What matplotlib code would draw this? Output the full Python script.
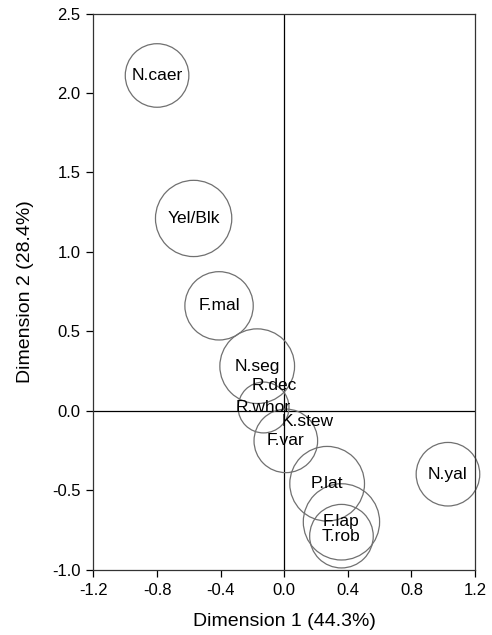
"""
plot.py
Ordenación en dos dimensiones con círculos por especie.
Genera out.png
"""

import matplotlib
matplotlib.use("Agg")
import matplotlib.pyplot as plt
import matplotlib.patches as mpatches

plt.rcParams["font.family"] = ["Liberation Sans", "DejaVu Sans"]

# ── Datos ─────────────────────────────────────────────────────────────────────
especies = ["N.caer", "Yel/Blk", "F.mal", "N.seg", "R.dec", "R.whor",
            "K.stew", "F.var", "P.lat", "F.lap", "T.rob", "N.yal"]
dim1     = [-0.80, -0.57, -0.41, -0.17, -0.06, -0.13,
            0.15, 0.01, 0.27, 0.36, 0.36, 1.03]
dim2     = [2.11, 1.21, 0.66, 0.28, 0.16, 0.02,
            -0.07, -0.19, -0.46, -0.70, -0.79, -0.40]
radios   = [0.20, 0.24, 0.215, 0.235, 0.0, 0.16,
            0.0, 0.20, 0.235, 0.24, 0.20, 0.20]

x_ticks = [-1.2, -0.8, -0.4, 0.0, 0.4, 0.8, 1.2]
y_ticks = [-1.0, -0.5, 0.0, 0.5, 1.0, 1.5, 2.0, 2.5]

FG     = "black"
CIRCLE = "#707070"


def main():
    fig = plt.figure(figsize=(4.92, 6.35), dpi=100)
    ax = fig.add_axes([0.190, 0.1031, 0.7754, 0.8756])

    # Ejes de referencia en el origen
    ax.axhline(0, color=FG, linewidth=0.9, zorder=1)
    ax.axvline(0, color=FG, linewidth=0.9, zorder=1)

    for nombre, x, y, r in zip(especies, dim1, dim2, radios):
        if r > 0:
            ax.add_patch(mpatches.Circle((x, y), r, fill=False,
                                         edgecolor=CIRCLE, linewidth=0.9,
                                         clip_on=False, zorder=2))
        ax.text(x, y, nombre, ha="center", va="center", fontsize=12.5,
                color=FG, zorder=3)

    ax.set_xlim(-1.2, 1.2)
    ax.set_ylim(-1.0, 2.5)
    ax.set_xticks(x_ticks)
    ax.set_yticks(y_ticks)
    ax.set_xticklabels([f"{v:.1f}" for v in x_ticks])
    ax.set_yticklabels([f"{v:.1f}" for v in y_ticks])
    ax.tick_params(direction="out", length=5, width=0.9, labelsize=12,
                   pad=4.5, colors=FG)
    for spine in ax.spines.values():
        spine.set_linewidth(0.9)
        spine.set_color("#333333")

    ax.set_xlabel("Dimension 1 (44.3%)", fontsize=14, labelpad=11)
    ax.set_ylabel("Dimension 2 (28.4%)", fontsize=14, labelpad=13)

    fig.savefig("out.png", dpi=100)
    plt.close(fig)


if __name__ == "__main__":
    main()
